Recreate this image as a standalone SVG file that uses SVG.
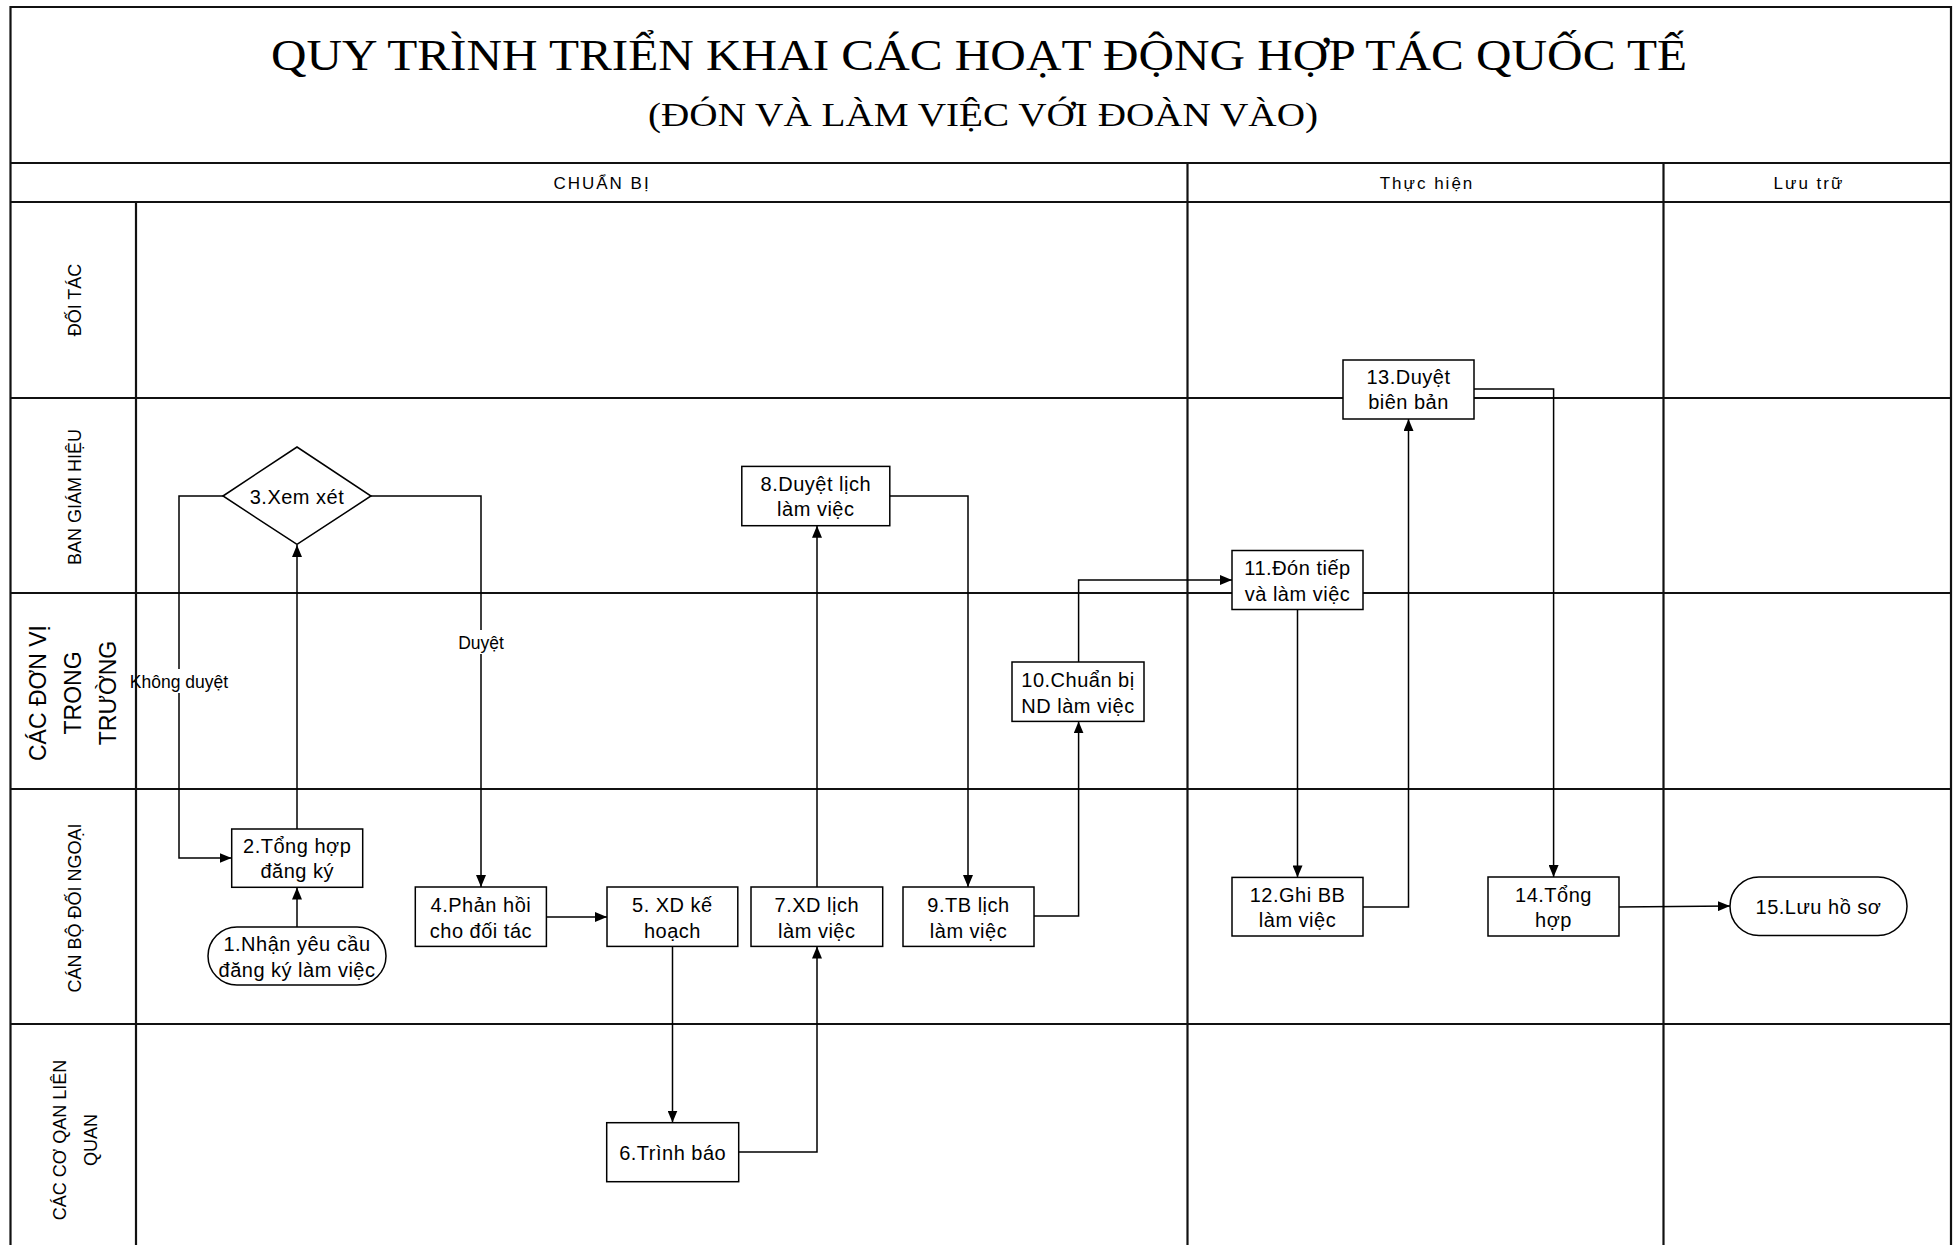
<svg xmlns="http://www.w3.org/2000/svg" width="1959" height="1245" viewBox="0 0 1959 1245">
<defs>
<marker id="arr" viewBox="0 0 12 10" refX="12" refY="5" markerWidth="12" markerHeight="10" markerUnits="userSpaceOnUse" orient="auto">
<path d="M0,0 L12,5 L0,10 z" fill="#000"/>
</marker>
<style>
.frame{stroke:#111;stroke-width:2.2;fill:none}
.title{font-family:"Liberation Serif","Times New Roman",serif;fill:#000}
.phase{font-family:"Liberation Sans",Arial,sans-serif;font-size:17px;letter-spacing:2px;fill:#000;text-anchor:middle}
.lane{font-family:"Liberation Sans",Arial,sans-serif;font-size:18px;fill:#000;text-anchor:middle}
.lanebig{font-family:"Liberation Sans",Arial,sans-serif;font-size:23px;fill:#000;text-anchor:middle}
.node rect,.node polygon{fill:#fff;stroke:#000;stroke-width:1.5}
.node text{font-family:"Liberation Sans",Arial,sans-serif;font-size:20px;fill:#000;text-anchor:middle;letter-spacing:0.5px}
.edge{fill:none;stroke:#000;stroke-width:1.5;marker-end:url(#arr)}
.elabel{font-family:"Liberation Sans",Arial,sans-serif;font-size:17.5px;fill:#000;text-anchor:middle}
</style>
</defs>
<rect x="0" y="0" width="1959" height="1245" fill="#fff"/>

<g id="frame">
<path class="frame" d="M10.5,1245 V7 H1951 V1245"/>
<line class="frame" x1="10" y1="163" x2="1951" y2="163"/>
<line class="frame" x1="10" y1="202" x2="1951" y2="202"/>
<line class="frame" x1="10" y1="398" x2="1951" y2="398"/>
<line class="frame" x1="10" y1="593" x2="1951" y2="593"/>
<line class="frame" x1="10" y1="789" x2="1951" y2="789"/>
<line class="frame" x1="10" y1="1024" x2="1951" y2="1024"/>
<line class="frame" x1="136" y1="202" x2="136" y2="1245"/>
<line class="frame" x1="1187.5" y1="163" x2="1187.5" y2="1245"/>
<line class="frame" x1="1663.5" y1="163" x2="1663.5" y2="1245"/>
</g>

<g id="titles">
<text class="title" x="271" y="70" font-size="44" textLength="1416" lengthAdjust="spacingAndGlyphs">QUY TRÌNH TRIỂN KHAI CÁC HOẠT ĐỘNG HỢP TÁC QUỐC TẾ</text>
<text class="title" x="648" y="126" font-size="34" textLength="670" lengthAdjust="spacingAndGlyphs">(ĐÓN VÀ LÀM VIỆC VỚI ĐOÀN VÀO)</text>
<text class="phase" x="602" y="189">CHUẨN BỊ</text>
<text class="phase" x="1427" y="189">Thực hiện</text>
<text class="phase" x="1809" y="189">Lưu trữ</text>
</g>

<g id="lanes">
<text class="lane" transform="translate(81,300) rotate(-90)">ĐỐI TÁC</text>
<text class="lane" transform="translate(81,497) rotate(-90)">BAN GIÁM HIỆU</text>
<text class="lanebig" transform="translate(46,693) rotate(-90)"><tspan x="0" y="0">CÁC ĐƠN VỊ</tspan><tspan x="0" y="35">TRONG</tspan><tspan x="0" y="70">TRƯỜNG</tspan></text>
<text class="lane" transform="translate(81,908) rotate(-90)">CÁN BỘ ĐỐI NGOẠI</text>
<text class="lane" transform="translate(66,1140) rotate(-90)"><tspan x="0" y="0">CÁC CƠ QAN LIÊN</tspan><tspan x="0" y="31">QUAN</tspan></text>
</g>

<g id="connectors">
<path class="edge" d="M297,927 V887.5"/>
<path class="edge" d="M297,829 V545"/>
<path class="edge" d="M223,496 H179 V858 H231.5"/>
<path class="edge" d="M371,496 H481 V887"/>
<path class="edge" d="M546.5,917 H607"/>
<path class="edge" d="M672.5,946.5 V1122.5"/>
<path class="edge" d="M738.7,1152 H817 V946.5"/>
<path class="edge" d="M817,887 V525.7"/>
<path class="edge" d="M890,496 H968 V887"/>
<path class="edge" d="M1034,916 H1078.6 V721.4"/>
<path class="edge" d="M1078.6,662 V580 H1232"/>
<path class="edge" d="M1297.5,609.5 V877.4"/>
<path class="edge" d="M1363,907 H1408.5 V419"/>
<path class="edge" d="M1474,389 H1553.6 V877"/>
<path class="edge" d="M1619,907 L1730,906"/>
</g>

<g id="edge-labels">
<rect x="138" y="669" width="92" height="24" fill="#fff"/>
<text class="elabel" x="179" y="688">Không duyệt</text>
<rect x="456" y="630" width="50" height="24" fill="#fff"/>
<text class="elabel" x="481" y="649">Duyệt</text>
</g>

<g id="n1" class="node"><rect x="208" y="927" width="178" height="58" rx="29" ry="29"/><text x="297" y="951">1.Nhận yêu cầu</text><text x="297" y="977">đăng ký làm việc</text></g>
<g id="n2" class="node"><rect x="231.7" y="829" width="131" height="58.3"/><text x="297.2" y="853">2.Tổng hợp</text><text x="297.2" y="878">đăng ký</text></g>
<g id="n3" class="node"><polygon points="223,496 297,447 371,496 297,544.4"/><text x="297" y="504">3.Xem xét</text></g>
<g id="n4" class="node"><rect x="415.3" y="887" width="131.1" height="59.4"/><text x="480.9" y="911.5">4.Phản hồi</text><text x="480.9" y="937.5">cho đối tác</text></g>
<g id="n5" class="node"><rect x="607" y="887" width="130.8" height="59.4"/><text x="672.4" y="911.5">5. XD kế</text><text x="672.4" y="937.5">hoạch</text></g>
<g id="n6" class="node"><rect x="606.7" y="1122.7" width="132" height="59"/><text x="672.7" y="1160">6.Trình báo</text></g>
<g id="n7" class="node"><rect x="751" y="887" width="131.7" height="59.4"/><text x="816.8" y="911.5">7.XD lịch</text><text x="816.8" y="937.5">làm việc</text></g>
<g id="n8" class="node"><rect x="741.8" y="466.4" width="148" height="59.3"/><text x="815.8" y="490.5">8.Duyệt lịch</text><text x="815.8" y="516">làm việc</text></g>
<g id="n9" class="node"><rect x="903" y="887" width="131" height="59.4"/><text x="968.5" y="911.5">9.TB lịch</text><text x="968.5" y="937.5">làm việc</text></g>
<g id="n10" class="node"><rect x="1012" y="662" width="132" height="59.4"/><text x="1078" y="686.5">10.Chuẩn bị</text><text x="1078" y="712.5">ND làm việc</text></g>
<g id="n11" class="node"><rect x="1232" y="550.5" width="131" height="59"/><text x="1297.5" y="575">11.Đón tiếp</text><text x="1297.5" y="600.5">và làm việc</text></g>
<g id="n12" class="node"><rect x="1232" y="877.4" width="131" height="58.6"/><text x="1297.5" y="901.5">12.Ghi BB</text><text x="1297.5" y="927">làm việc</text></g>
<g id="n13" class="node"><rect x="1343" y="360" width="131" height="59"/><text x="1408.5" y="384">13.Duyệt</text><text x="1408.5" y="409">biên bản</text></g>
<g id="n14" class="node"><rect x="1488" y="877" width="131" height="59"/><text x="1553.5" y="901.5">14.Tổng</text><text x="1553.5" y="927">hợp</text></g>
<g id="n15" class="node"><rect x="1730" y="877" width="177" height="58.5" rx="29" ry="29"/><text x="1818.5" y="914">15.Lưu hồ sơ</text></g>
</svg>
